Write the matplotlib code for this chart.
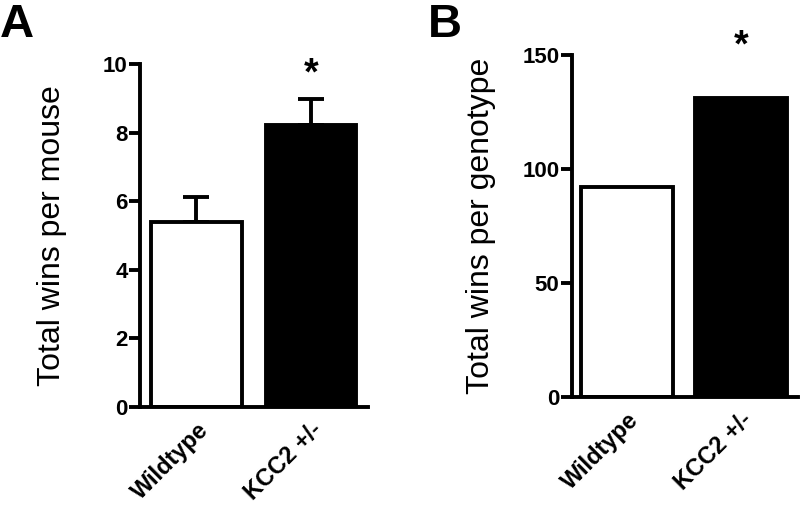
import matplotlib
matplotlib.use("Agg")
import matplotlib.pyplot as plt

# data
categories = ["Wildtype", "KCC2 +/-"]
wins_per_mouse = [5.39, 8.22]
wins_per_mouse_sem = [0.73, 0.76]
wins_per_genotype = [92, 131]
bar_colors = ["white", "black"]

plt.rcParams["font.family"] = ["Liberation Sans", "DejaVu Sans"]

LW = 2.8


def style_axes(ax, ymax, yticks):
    ax.spines["top"].set_visible(False)
    ax.spines["right"].set_visible(False)
    ax.spines["left"].set_linewidth(LW)
    ax.spines["bottom"].set_linewidth(LW)
    ax.set_ylim(0, ymax)
    ax.set_yticks(yticks)
    ax.tick_params(axis="y", direction="out", length=8, width=LW, labelsize=16, pad=1)
    ax.tick_params(axis="x", length=0, pad=8)
    for lab in ax.get_yticklabels():
        lab.set_fontweight("bold")
    ax.set_xticks(range(len(categories)))
    ax.set_xticklabels(categories, rotation=45, ha="right", va="top",
                       rotation_mode="anchor", fontsize=17, fontweight="bold")


fig = plt.figure(figsize=(8, 5.07), dpi=100)

# Panel A
axA = fig.add_axes([0.175, 0.197, 0.285, 0.677])
x = range(len(categories))
axA.bar(x, wins_per_mouse, width=0.79, color=bar_colors, edgecolor="black",
        linewidth=LW, zorder=2)
axA.errorbar(x, wins_per_mouse, yerr=[[0, 0], wins_per_mouse_sem], fmt="none",
             ecolor="black", elinewidth=LW, capsize=9.5, capthick=LW, zorder=1)
axA.set_xlim(-0.493, 1.498)
style_axes(axA, 10, [0, 2, 4, 6, 8, 10])
axA.set_ylabel("Total wins per mouse", fontsize=23)
axA.yaxis.set_label_coords(-0.322, 0.5)
axA.text(1, 9.68, "*", ha="center", va="center", fontsize=27, fontweight="bold")

# Panel B
axB = fig.add_axes([0.715, 0.217, 0.2825, 0.6745])
axB.bar(x, wins_per_genotype, width=0.807, color=bar_colors, edgecolor="black",
        linewidth=LW, zorder=2)
axB.set_xlim(-0.482, 1.5)
style_axes(axB, 150, [0, 50, 100, 150])
axB.set_ylabel("Total wins per genotype", fontsize=23)
axB.yaxis.set_label_coords(-0.336, 0.5)
axB.text(1, 153.8, "*", ha="center", va="center", fontsize=27, fontweight="bold",
         clip_on=False)

fig.text(0.0, 0.995, "A", ha="left", va="top", fontsize=34, fontweight="bold")
fig.text(0.535, 0.995, "B", ha="left", va="top", fontsize=34, fontweight="bold")

fig.savefig("out.png", dpi=100)
plt.close(fig)
